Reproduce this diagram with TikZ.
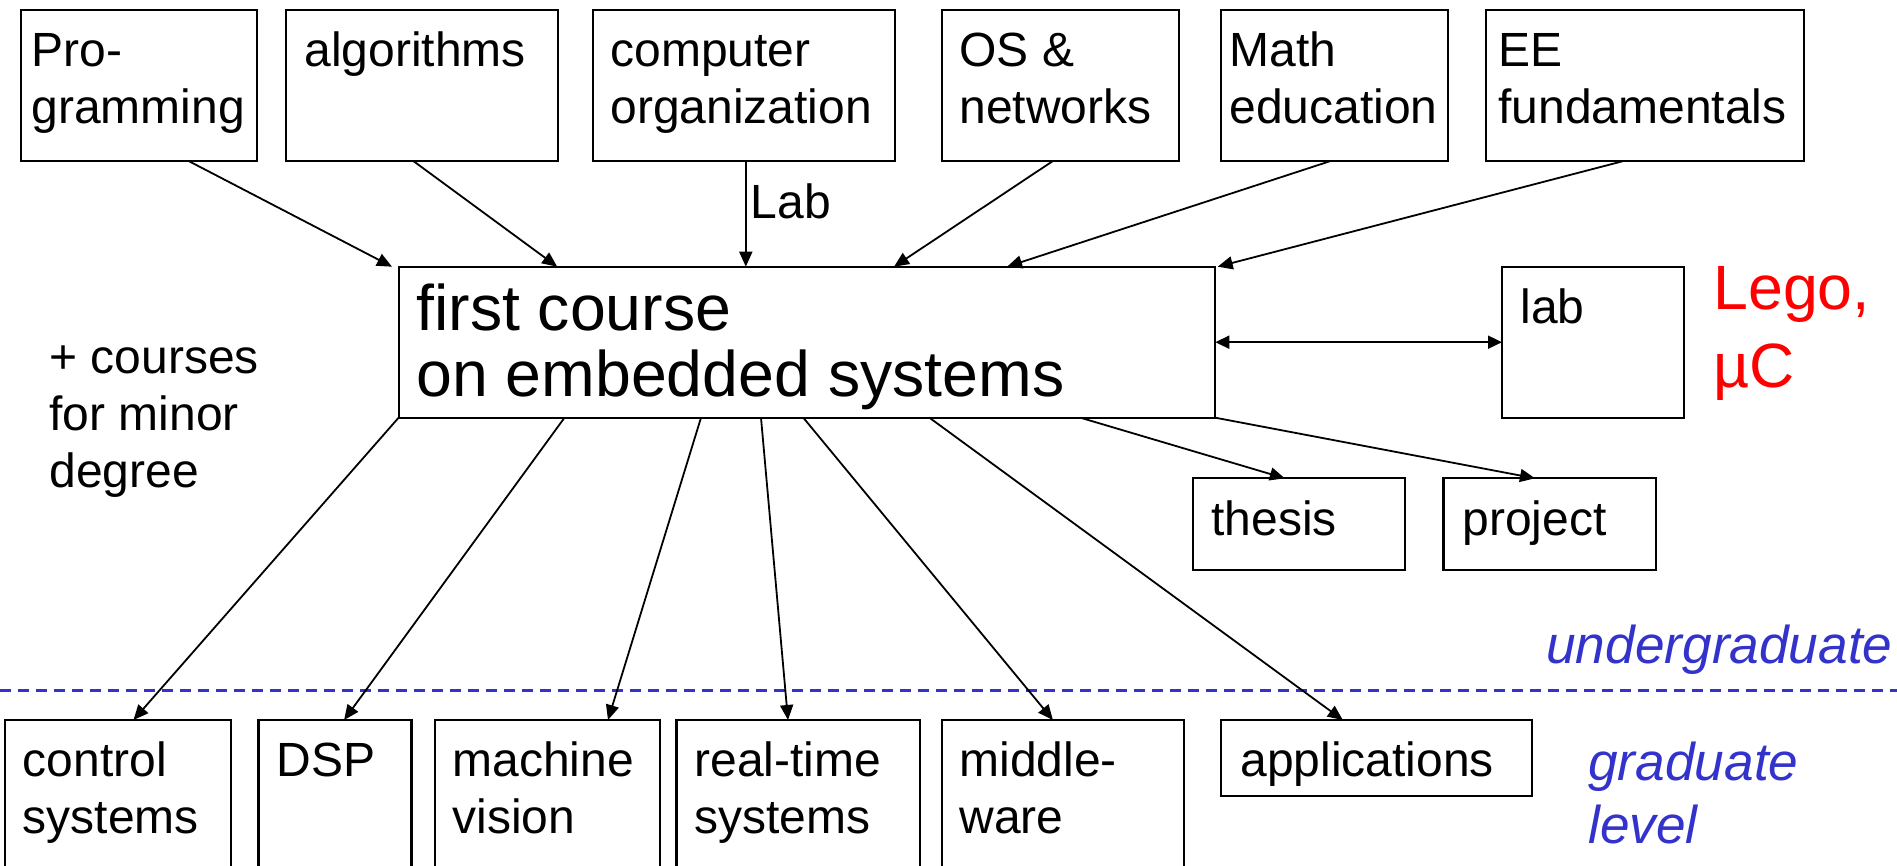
\documentclass[tikz,border=0pt]{standalone}
\usepackage{fontspec}
\setmainfont{Liberation Sans}
\usetikzlibrary{arrows.meta,calc,fit}
\definecolor{levelblue}{RGB}{51,51,204}
% left-aligned block of lines whose baseline is that of its first line
\newcommand{\linesof}[1]{\begin{tabular}[t]{@{}l@{}}#1\end{tabular}}

\begin{document}
\begin{tikzpicture}[x=0.5pt,y=-0.5pt,
  box/.style={draw, line width=1.1pt, inner sep=0pt, outer sep=0pt},
  lbl/.style={inner sep=0pt, anchor=base west, font=\fontsize{24}{28.5}\selectfont},
  big/.style={lbl, font=\fontsize{32.2}{31.9}\selectfont},
  lego/.style={lbl, text=red, font=\fontsize{31.3}{39}\selectfont},
  lvl/.style={lbl, text=levelblue, font=\fontsize{26.6}{31.65}\selectfont\itshape},
  arr/.style={line width=0.9pt, -{Triangle[length=7.5pt,width=6.5pt]}},
  darr/.style={line width=0.9pt, {Triangle[length=7pt,width=6.5pt]}-{Triangle[length=7pt,width=6.5pt]}},
  divider/.style={levelblue, line width=1.5pt, dash pattern=on 5.5pt off 3.5pt},
]
\useasboundingbox (0,0) rectangle (1897,866);
\clip (0,0) rectangle (1897,866);

% prerequisite courses
\node[box, fit={(21,10)(257,161)}]    (pro)  {};
\node[box, fit={(286,10)(558,161)}]   (algo) {};
\node[box, fit={(593,10)(895,161)}]   (comp) {};
\node[box, fit={(942,10)(1179,161)}]  (os)   {};
\node[box, fit={(1221,10)(1448,161)}] (math) {};
\node[box, fit={(1486,10)(1804,161)}] (ee)   {};
\node[lbl] (tpro)  at (31,66.7)   {\linesof{Pro-\\gramming}};
\node[lbl] (talgo) at (304,66.7)  {algorithms};
\node[lbl] (tcomp) at (610,66.7)  {\linesof{computer\\organization}};
\node[lbl] (tos)   at (959,66.7)  {\linesof{OS \&\\networks}};
\node[lbl] (tmath) at (1229,66.7) {\linesof{Math\\education}};
\node[lbl] (tee)   at (1498,66.7) {\linesof{EE\\fundamentals}};

% the central course
\node[box, fit={(398.6,266.7)(1215.3,417.7)}] (main) {};
\node[big] (tmain) at (416,331) {\linesof{first course\\on embedded systems}};

% lab
\node[box, fit={(1502,266.7)(1684,417.7)}] (labbox) {};
\node[lbl] (tlab) at (1520,324) {lab};
\node[lego] (tlego) at (1713,310) {\linesof{Lego,\\µC}};

\node[lbl] (tminor) at (49,373.3) {\linesof{+ courses\\for minor\\degree}};

% thesis and project
\node[box, fit={(1193.3,478.3)(1405,570)}] (thesis)  {};
\node[box, fit={(1443.5,478.3)(1656,570)}] (project) {};
\node[lbl] (tthesis)  at (1211,535) {thesis};
\node[lbl] (tproject) at (1462,535) {project};

% level divider
\coordinate (divL) at (0,690);
\coordinate (divR) at (1897,690);
\draw[divider] (divL) -- (divR);
\node[lvl] (tug)   at (1546,663.3) {undergraduate};
\node[lvl] (tgrad) at (1588,780)   {\linesof{graduate\\level}};

% graduate courses
\node[box, fit={(4.9,720)(230.8,900)}]    (ctrl) {};
\node[box, fit={(258.4,720)(411.4,900)}]  (dsp)  {};
\node[box, fit={(435.3,720)(660,900)}]    (mv)   {};
\node[box, fit={(676.5,720)(919.6,900)}]  (rt)   {};
\node[box, fit={(941.8,720)(1184.1,900)}] (mw)   {};
\node[box, fit={(1220.7,720)(1532,796)}]  (app)  {};
\node[lbl] (tctrl) at (22.5,776.7) {\linesof{control\\systems}};
\node[lbl] (tdsp)  at (276,776.7)  {DSP};
\node[lbl] (tmv)   at (452,776.7)  {\linesof{machine\\vision}};
\node[lbl] (trt)   at (694,776.7)  {\linesof{real-time\\systems}};
\node[lbl] (tmw)   at (959,776.7)  {\linesof{middle-\\ware}};
\node[lbl] (tapp)  at (1240,776.7) {applications};

% incoming arrows
\draw[arr] ($(pro.south west)+(167.6,0)$)  -- ($(main.north west)+(-6.6,0)$);
\draw[arr] ($(algo.south west)+(127.3,0)$) -- ($(main.north west)+(158.6,0)$);
\draw[arr] ($(comp.south west)+(152.8,0)$) -- node[lbl, pos=0.542, xshift=2pt] (tlabarrow) {Lab} ($(main.north west)+(347.2,0)$);
\draw[arr] ($(os.south west)+(110.9,0)$)   -- ($(main.north west)+(495.4,0)$);
\draw[arr] ($(math.south west)+(109.6,0)$) -- ($(main.north west)+(608.5,0)$);
\draw[arr] ($(ee.south west)+(137.6,0)$)   -- ($(main.north east)+(2.4,0)$);

% lab link
\draw[darr] (main.east) -- (labbox.west);

% outgoing arrows
\draw[arr] ($(main.south west)+(681.8,0)$) -- ($(thesis.north west)+(91.5,0)$);
\draw[arr] (main.south east) -- ($(project.north west)+(91.5,0)$);
\draw[arr] (main.south west) -- ($(ctrl.north west)+(128.6,0)$);
\draw[arr] ($(main.south west)+(165.9,0)$) -- ($(dsp.north west)+(85.7,0)$);
\draw[arr] ($(main.south west)+(302.4,0)$) -- ($(mv.north west)+(172.7,0)$);
\draw[arr] ($(main.south west)+(362.4,0)$) -- ($(rt.north west)+(111.5,0)$);
\draw[arr] ($(main.south west)+(404.7,0)$) -- ($(mw.north west)+(111.1,0)$);
\draw[arr] ($(main.south west)+(530.8,0)$) -- ($(app.north west)+(122.1,0)$);
\end{tikzpicture}
\end{document}
